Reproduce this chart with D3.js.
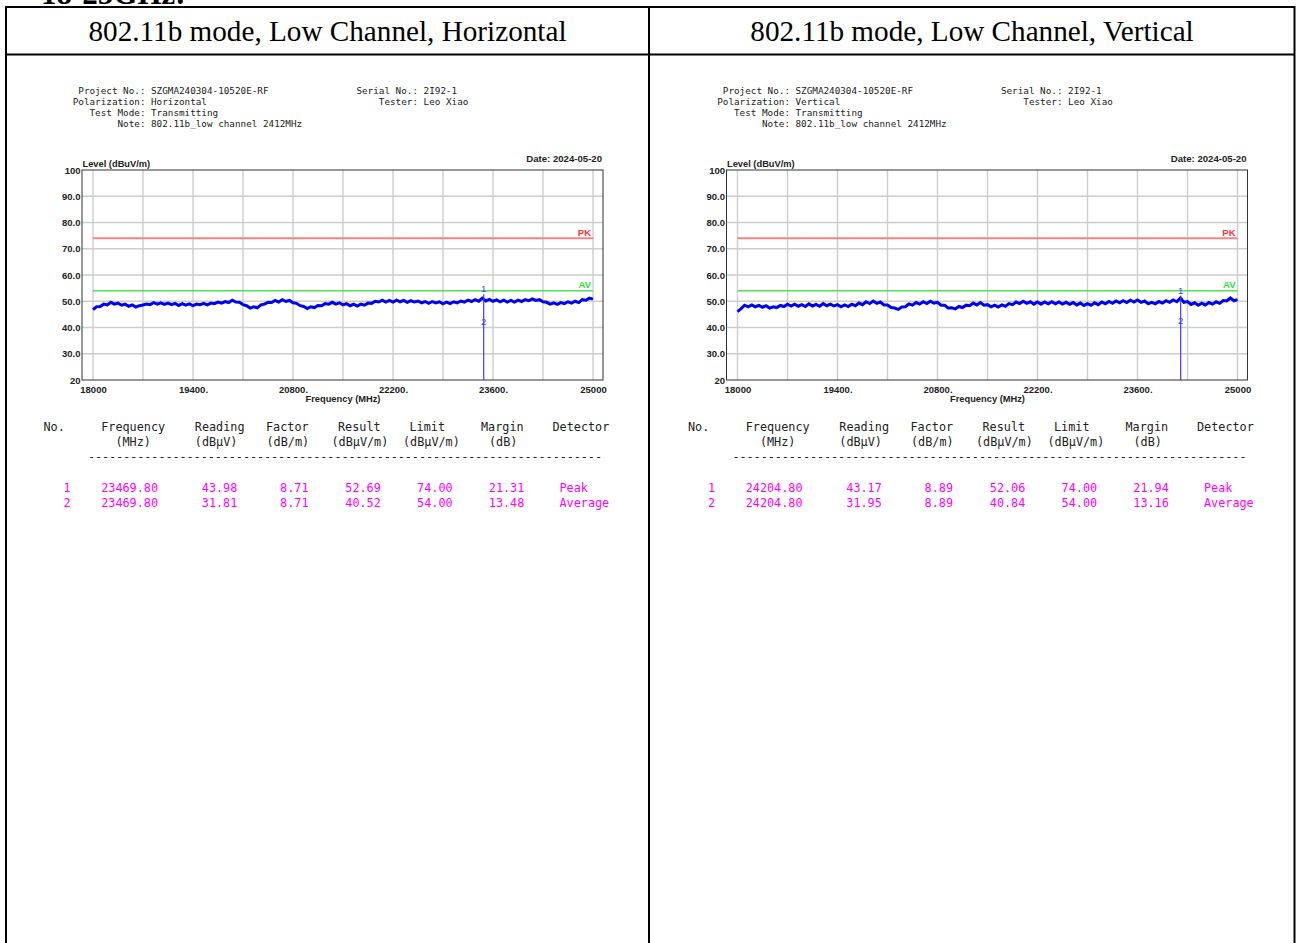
<!DOCTYPE html>
<html>
<head>
<meta charset="utf-8">
<script src="https://cdn.jsdelivr.net/npm/d3@7"></script>
<style>
  html,body{margin:0;padding:0;background:#fff;}
  svg{display:block;}
</style>
</head>
<body>
<svg id="chart" width="1296" height="943"></svg>
<script>
// ---------------- DATA ----------------
const pageHeading = "18-25GHz:";
const panelTitles = ["802.11b mode, Low Channel, Horizontal", "802.11b mode, Low Channel, Vertical"];
const polarizations = ["Horizontal", "Vertical"];
const projectNo = "SZGMA240304-10520E-RF";
const serialNo = "2I92-1";
const tester = "Leo Xiao";
const testMode = "Transmitting";
const note = "802.11b_low channel 2412MHz";
const testDate = "Date: 2024-05-20";

const freqStart = 18000, freqEnd = 25000;
const yMin = 20, yMax = 100;
const xTickValues = [18000, 19400, 20800, 22200, 23600, 25000];
const xTickLabels = ["18000", "19400.", "20800.", "22200.", "23600.", "25000"];
const xGridValues = [18000, 18700, 19400, 20100, 20800, 21500, 22200, 22900, 23600, 24300, 25000];
const yTickValues = [20, 30, 40, 50, 60, 70, 80, 90, 100];
const yTickLabels = ["20", "30.0", "40.0", "50.0", "60.0", "70.0", "80.0", "90.0", "100"];
const limitPK = 74, limitAV = 54;

// sweep levels (dBuV/m), 18000..25000 MHz in 50 MHz steps
const levelH = [
  46.8,47.9,48.0,48.9,48.6,49.6,48.9,49.3,48.5,48.9,
  48.1,48.6,47.8,48.3,48.6,48.9,48.7,49.5,48.9,49.4,
  48.8,49.3,48.7,49.2,48.4,49.1,48.5,49.0,48.3,48.9,
  48.7,49.2,48.6,49.3,49.1,49.7,49.3,49.9,49.5,50.4,
  49.7,49.6,48.7,48.3,47.4,47.9,47.5,48.6,48.9,49.6,
  49.5,50.3,49.7,50.6,49.9,50.3,49.4,49.2,48.3,48.0,
  47.2,47.9,47.6,48.4,48.3,49.1,48.9,49.6,48.9,49.4,
  48.6,49.1,48.3,48.9,48.2,48.9,48.5,49.3,49.2,50.0,
  49.7,50.4,49.7,50.3,49.7,50.4,49.8,50.3,49.6,50.2,
  49.7,50.1,49.4,49.9,49.2,49.9,49.4,49.8,49.0,49.7,
  49.1,49.8,49.4,50.1,49.7,50.4,49.9,50.6,50.0,51.2,
  50.1,50.7,50.0,50.5,49.8,50.4,49.7,50.3,49.7,50.4,
  49.9,50.6,50.2,50.9,50.3,50.6,49.8,49.6,48.9,49.4,
  48.8,49.5,49.1,49.8,49.3,50.0,49.5,50.6,50.4,51.2,
  50.8
];
const levelV = [
  46.0,47.2,48.5,47.9,48.6,47.9,48.4,47.7,48.3,47.4,
  47.9,47.6,48.4,48.0,48.9,48.2,48.9,48.1,48.7,48.0,
  49.0,48.2,48.8,48.1,49.1,48.3,48.9,48.2,48.7,47.9,
  48.6,48.0,48.9,48.3,49.3,48.7,49.8,49.1,50.1,49.2,
  49.7,48.6,48.6,47.6,47.4,46.9,47.8,47.9,49.0,48.5,
  49.5,48.9,49.8,49.1,50.0,49.3,49.6,48.5,48.5,47.4,
  47.5,47.1,48.0,47.6,48.5,48.3,49.3,48.6,49.5,48.5,
  48.7,47.9,48.5,47.8,48.6,48.1,49.1,48.7,49.7,49.1,
  50.0,49.2,49.8,48.9,49.7,48.9,49.7,49.0,49.8,49.0,
  49.7,48.9,49.6,48.8,49.5,48.6,49.3,48.4,49.1,48.5,
  49.4,48.7,49.7,49.0,49.9,49.2,50.1,49.4,50.2,49.5,
  50.4,49.7,50.5,49.6,50.1,49.0,49.6,49.0,49.9,49.3,
  50.2,49.6,50.5,49.8,51.2,49.6,49.9,48.8,49.4,48.5,
  49.3,48.6,49.5,48.9,49.8,49.2,50.3,50.1,51.3,50.2,
  50.6
];

// result tables
const tableHeader1 = ["No.", "Frequency", "Reading", "Factor", "Result", "Limit", "Margin", "Detector"];
const tableHeader2 = ["", "(MHz)", "(dBμV)", "(dB/m)", "(dBμV/m)", "(dBμV/m)", "(dB)", ""];
const rowNo = ["1", "2"];
const freqH = ["23469.80", "23469.80"];
const readingH = ["43.98", "31.81"];
const factorH = ["8.71", "8.71"];
const resultH = ["52.69", "40.52"];
const limitH = ["74.00", "54.00"];
const marginH = ["21.31", "13.48"];
const freqV = ["24204.80", "24204.80"];
const readingV = ["43.17", "31.95"];
const factorV = ["8.89", "8.89"];
const resultV = ["52.06", "40.84"];
const limitV = ["74.00", "54.00"];
const marginV = ["21.94", "13.16"];
const detector = ["Peak", "Average"];

// ---------------- DRAW ----------------
const svg = d3.select("#chart");
svg.append("rect").attr("width", 1296).attr("height", 943).attr("fill", "#fff");

// page heading (only its lower part is visible, as in the reference)
svg.append("text").attr("x", 41).attr("y", 3.5)
  .attr("font-family", "Liberation Serif").attr("font-weight", "bold").attr("font-size", 31)
  .text(pageHeading);

// outer table
const tbl = svg.append("g").attr("stroke", "#000").attr("stroke-width", 2).attr("fill", "none");
tbl.append("line").attr("x1", 6).attr("x2", 1295).attr("y1", 7).attr("y2", 7);
tbl.append("line").attr("x1", 6).attr("x2", 1295).attr("y1", 54.5).attr("y2", 54.5);
tbl.append("line").attr("x1", 6).attr("x2", 6).attr("y1", 6).attr("y2", 943);
tbl.append("line").attr("x1", 649).attr("x2", 649).attr("y1", 6).attr("y2", 943);
tbl.append("line").attr("x1", 1294.5).attr("x2", 1294.5).attr("y1", 6).attr("y2", 943);

const titleCenters = [327.5, 972];
panelTitles.forEach((t, i) => {
  svg.append("text").attr("x", titleCenters[i]).attr("y", 40.5)
    .attr("text-anchor", "middle").attr("font-family", "Liberation Serif")
    .attr("font-size", 29.2).attr("fill", "#000").text(t);
});

const panels = [
  {off: 0, pol: polarizations[0], level: levelH,
   cols: [rowNo, freqH, readingH, factorH, resultH, limitH, marginH, detector]},
  {off: 644.5, pol: polarizations[1], level: levelV,
   cols: [rowNo, freqV, readingV, factorV, resultV, limitV, marginV, detector]}
];

const mono = "DejaVu Sans Mono";
const sans = "Liberation Sans";

panels.forEach(p => {
  const g = svg.append("g").attr("transform", `translate(${p.off},0)`);

  // info block
  const info = g.append("g").attr("font-family", mono).attr("font-size", 9.3).attr("fill", "#222");
  const leftInfo = [["Project No.:", projectNo], ["Polarization:", p.pol], ["Test Mode:", testMode], ["Note:", note]];
  leftInfo.forEach((d, i) => {
    info.append("text").attr("x", 145.5).attr("y", 94 + i * 11).attr("text-anchor", "end").text(d[0]);
    info.append("text").attr("x", 151).attr("y", 94 + i * 11).text(d[1]);
  });
  const rightInfo = [["Serial No.:", serialNo], ["Tester:", tester]];
  rightInfo.forEach((d, i) => {
    info.append("text").attr("x", 418).attr("y", 94 + i * 11).attr("text-anchor", "end").text(d[0]);
    info.append("text").attr("x", 423.6).attr("y", 94 + i * 11).text(d[1]);
  });

  // scales
  const x = d3.scaleLinear().domain([freqStart, freqEnd]).range([93, 593]);
  const y = d3.scaleLinear().domain([yMin, yMax]).range([380, 170]);
  const frameL = 82, frameR = 603;

  // grid
  g.append("g").selectAll("line").data(yTickValues.slice(1, -1)).join("line")
    .attr("x1", frameL).attr("x2", frameR).attr("y1", d => y(d)).attr("y2", d => y(d))
    .attr("stroke", "#cdcdcd").attr("stroke-width", 1.4);
  g.append("g").selectAll("line").data(xGridValues).join("line")
    .attr("x1", d => x(d)).attr("x2", d => x(d)).attr("y1", y(yMax)).attr("y2", y(yMin))
    .attr("stroke", "#cdcdcd").attr("stroke-width", 1.4);

  // frame
  g.append("rect").attr("x", frameL).attr("y", y(yMax)).attr("width", frameR - frameL)
    .attr("height", y(yMin) - y(yMax)).attr("fill", "none").attr("stroke", "#333").attr("stroke-width", 1);

  // axes
  const yAxis = d3.axisLeft(y).tickValues(yTickValues).tickSize(0).tickPadding(1.5)
    .tickFormat((d, i) => yTickLabels[i]);
  g.append("g").attr("transform", `translate(${frameL},0)`).call(yAxis)
    .call(a => a.select(".domain").remove())
    .selectAll("text").attr("font-family", sans).attr("font-weight", "bold").attr("font-size", 9.5).attr("fill", "#222");
  const xAxis = d3.axisBottom(x).tickValues(xTickValues).tickSize(0).tickPadding(5.8)
    .tickFormat((d, i) => xTickLabels[i]);
  g.append("g").attr("transform", `translate(0,${y(yMin)})`).call(xAxis)
    .call(a => a.select(".domain").remove())
    .selectAll("text").attr("font-family", sans).attr("font-weight", "bold").attr("font-size", 9.5).attr("fill", "#222");

  const lbl = g.append("g").attr("font-family", sans).attr("font-weight", "bold").attr("font-size", 9.3).attr("fill", "#222");
  lbl.append("text").attr("x", 82.5).attr("y", 166.5).text("Level (dBuV/m)");
  lbl.append("text").attr("x", 343).attr("y", 402).attr("text-anchor", "middle").text("Frequency (MHz)");
  lbl.append("text").attr("x", 602).attr("y", 162).attr("text-anchor", "end").attr("font-size", 9.6).text(testDate);

  // limit lines
  g.append("line").attr("x1", x(freqStart)).attr("x2", x(freqEnd)).attr("y1", y(limitPK)).attr("y2", y(limitPK))
    .attr("stroke", "#f58585").attr("stroke-width", 1.8);
  g.append("line").attr("x1", x(freqStart)).attr("x2", x(freqEnd)).attr("y1", y(limitAV)).attr("y2", y(limitAV))
    .attr("stroke", "#55e055").attr("stroke-width", 1.3);
  g.append("text").attr("x", 591).attr("y", y(limitPK) - 2.5).attr("text-anchor", "end")
    .attr("font-family", sans).attr("font-weight", "bold").attr("font-size", 9.5).attr("fill", "#ff3333").text("PK");
  g.append("text").attr("x", 591).attr("y", y(limitAV) - 3).attr("text-anchor", "end")
    .attr("font-family", sans).attr("font-weight", "bold").attr("font-size", 9.5).attr("fill", "#33dd33").text("AV");

  // trace
  const n = p.level.length;
  const step = (freqEnd - freqStart) / (n - 1);
  const line = d3.line().x((d, i) => x(freqStart + i * step)).y(d => y(d));
  g.append("path").datum(p.level).attr("d", line).attr("fill", "none")
    .attr("stroke", "#0000f0").attr("stroke-width", 3).attr("stroke-linejoin", "miter");

  // markers
  const mf = +p.cols[1][0];
  const peak = +p.cols[4][0], avg = +p.cols[4][1];
  g.append("line").attr("x1", x(mf)).attr("x2", x(mf)).attr("y1", y(yMin)).attr("y2", y(peak))
    .attr("stroke", "#3b3bff").attr("stroke-width", 1.2);
  g.append("text").attr("x", x(mf)).attr("y", y(peak) - 2).attr("text-anchor", "middle")
    .attr("font-family", sans).attr("font-size", 9.5).attr("fill", "#3b3bff").text(rowNo[0]);
  g.append("text").attr("x", x(mf)).attr("y", y(avg) - 1).attr("text-anchor", "middle")
    .attr("font-family", sans).attr("font-size", 9.5).attr("fill", "#3b3bff").text(rowNo[1]);

  // result table
  const tg = g.append("g").attr("font-family", mono).attr("font-size", 11.8);
  const h1x = [43.5, 101.2, 194.8, 266, 338, 409.5, 481, 552.5];
  const h2x = [0, 115.4, 194.8, 266.5, 331.5, 403, 489, 0];
  tableHeader1.forEach((t, i) => tg.append("text").attr("x", h1x[i]).attr("y", 431.3).attr("fill", "#222").text(t));
  tableHeader2.forEach((t, i) => { if (t) tg.append("text").attr("x", h2x[i]).attr("y", 446).attr("fill", "#222").text(t); });
  tg.append("text").attr("x", 88).attr("y", 460.5).attr("fill", "#222")
    .attr("textLength", 514).attr("lengthAdjust", "spacing").text("-".repeat(73));
  const colEnds = [70.5, 158, 237.3, 308.5, 380.8, 452.6, 524.3];
  rowNo.forEach((_, r) => {
    p.cols.forEach((col, c) => {
      const t = tg.append("text").attr("y", 491.8 + r * 15).attr("fill", "#ff00ff").text(col[r]);
      if (c < 7) t.attr("x", colEnds[c]).attr("text-anchor", "end");
      else t.attr("x", 559.5);
    });
  });
});
</script>
</body>
</html>
